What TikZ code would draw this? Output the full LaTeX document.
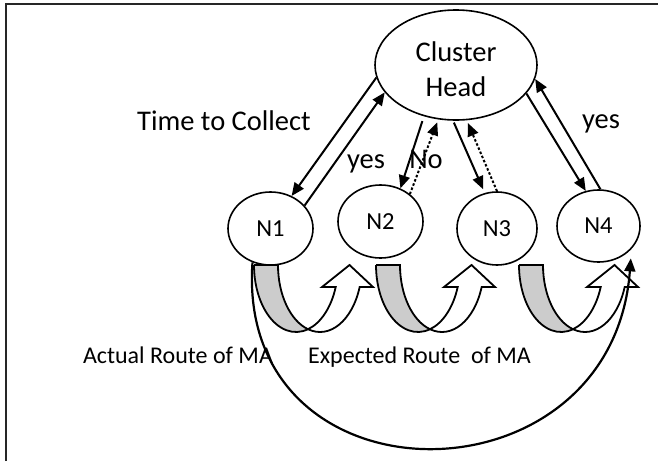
\documentclass[tikz,border=0pt]{standalone}
\usepackage{fontspec}
\setmainfont{Carlito}
\usetikzlibrary{arrows.meta,shapes.geometric}
\begin{document}
\begin{tikzpicture}[x=1pt,y=-1pt,
  nd/.style={draw, ellipse, line width=1.6pt, inner sep=0pt, font=\fontsize{24.5}{29}\selectfont},
  lbl/.style={inner sep=0pt, anchor=base, font=\fontsize{28.5}{34}\selectfont},
  sm/.style={inner sep=0pt, anchor=base, font=\fontsize{24}{28}\selectfont},
  con/.style={line width=2pt, -{Triangle[length=13pt,width=11pt]}},
  dotcon/.style={con, dash pattern=on 2.5pt off 2pt},
  uband/.style={line width=1.8pt, line join=miter},
  uturn/.pic={
    \fill[gray!40] (0,0) -- (24,0)
      arc[start angle=180, end angle=106.6, x radius=42, y radius=67]
      arc[start angle=73.4, end angle=180, x radius=42, y radius=67] -- cycle;
    \draw[uband] (0,0) -- (24,0)
      arc[start angle=180, end angle=106.6, x radius=42, y radius=67]
      arc[start angle=73.4, end angle=180, x radius=42, y radius=67] -- cycle;
    \draw[uband, fill=white] (54,64.2)
      arc[start angle=106.6, end angle=19.2, x radius=42, y radius=67]
      -- (119,22) -- (95.5,0) -- (68,22) -- (81.7,22)
      arc[start angle=19.2, end angle=73.4, x radius=42, y radius=67] -- cycle;
  }
]
\useasboundingbox (0,0) rectangle (658,461);
% frame
\draw[line width=2pt, black!85] (6,461) -- (6,4) -- (658,4);

% nodes
\node[nd, minimum width=162pt, minimum height=110pt] (CH) at (456,65) {};
\node[inner sep=0pt, align=center, font=\fontsize{28.5}{35}\selectfont] (CHt) at (456,69.5) {Cluster\\Head};
\node[nd, minimum width=85pt, minimum height=73pt] (N1) at (270.5,228.5) {N1};
\node[nd, minimum width=85pt, minimum height=73pt] (N2) at (380.5,221.5) {N2};
\node[nd, minimum width=80pt, minimum height=73pt] (N3) at (497,228.5) {N3};
\node[nd, minimum width=83pt, minimum height=72pt] (N4) at (598.5,226) {N4};

% connectors
\draw[con] (CH.189) -- (N1.57);
\draw[con] (N1.34) -- (CH.201);
\draw[con, shorten <=5pt] (CH.238) -- (N2.59);
\draw[dotcon, shorten >=3pt] (N2.43) -- (CH.252);
\draw[con, shorten <=2pt, shorten >=4pt] (CH.267) -- (N3.109);
\draw[dotcon, shorten >=3pt] (N3.90) -- (CH.281);
\draw[con] (CH.338) -- (N4.110);
\draw[con] (N4.87) -- (CH.350);

% u-turn arrows
\pic at (254,265) {uturn};
\pic at (376,265) {uturn};
\pic at (519,265) {uturn};

% big route arc
\draw[line width=2.2pt, -{Triangle[length=13pt,width=11pt]}]
  (N1.242) .. controls (235,510) and (612,510) .. ([shift={(4,5)}]N4.316);

% labels
\node[lbl] (tc) at (224,130) {Time to Collect};
\node[lbl] (y1) at (366,168) {yes};
\node[lbl] (no) at (426,168) {No};
\node[lbl] (y2) at (601,128) {yes};
\node[sm] (ar) at (178,363) {Actual Route of MA};
\node[sm] (er) at (419.5,363) {Expected Route\ \ of MA};
\end{tikzpicture}
\end{document}
